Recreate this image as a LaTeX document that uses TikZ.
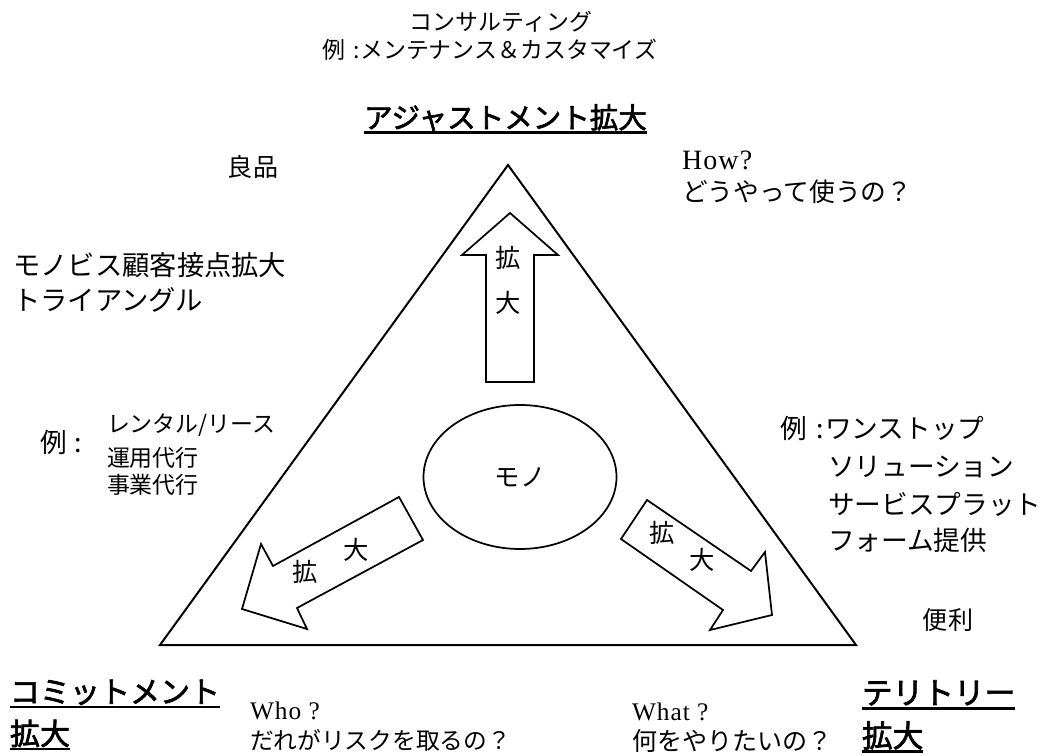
\documentclass[tikz,border=0pt]{standalone}
\usepackage{fontspec}
\usetikzlibrary{shapes.geometric}
\setmainfont{Noto Sans CJK JP}
\newfontfamily\jpb[FakeBold=2.2]{Noto Sans CJK JP}
\newfontfamily\lat[LetterSpace=4]{Liberation Serif}
\newcommand\fs[1]{\fontsize{#1}{#1}\selectfont}
\newcommand\ulx[1]{\setbox0=\hbox{#1}\rlap{\copy0}\raisebox{-4.2pt}{\rule{\wd0}{2pt}}}
\begin{document}
\begin{tikzpicture}[x=0.75pt,y=-0.75pt,
  tri/.style={line width=1.5pt, line join=miter},
  blk/.style={draw, line width=1.3pt, line join=miter, fill=white},
  txt/.style={inner sep=0pt, outer sep=0pt},
  wtxt/.style={inner sep=0pt, outer sep=0pt, anchor=west}]
\useasboundingbox (0,0) rectangle (1050,756);

% triangle
\coordinate (apex) at (508,165);
\coordinate (br) at (856,645);
\coordinate (bl) at (160,645);
\draw[tri] (apex) -- (br) -- (bl) -- cycle;

% centre ellipse
\node[draw, ellipse, line width=1.3pt, inner sep=0pt,
      minimum width=144.75pt, minimum height=108pt] (mono) at (520,477) {\fs{19}モノ};

% up arrow
\draw[blk] (486,382) -- (486,255) -- (462,255) -- (510,213) -- (558,255) -- (534,255) -- (534,382) -- cycle;
\node[txt] (u1) at (508,258) {\fs{19}拡};
\node[txt] (u2) at (508,303) {\fs{19}大};

% left-down arrow
\draw[blk] (399,497) -- (273,566) -- (261,544) -- (242,609) -- (307,629) -- (297,608) -- (423,540) -- cycle;
\node[txt] (l1) at (305,572) {\fs{19}拡};
\node[txt] (l2) at (356,550) {\fs{19}大};

% right-down arrow
\draw[blk] (647,500) -- (751,571) -- (765,552) -- (772,615) -- (710,630) -- (723,610) -- (621,539) -- cycle;
\node[txt] (r1) at (662,533) {\fs{19}拡};
\node[txt] (r2) at (702,560) {\fs{19}大};

% top texts
\node[txt] (t1) at (501,22) {\fs{17.2}コンサルティング};
\node[txt] (t2) at (490,50) {\fs{17.2}例\hspace{6pt}:メンテナンス＆カスタマイズ};
\node[txt] (adj) at (505.5,119) {\jpb\fs{21.4}\ulx{アジャストメント拡大}};

% left texts
\node[txt] (ryo) at (253,167) {\fs{18.8}良品};
\node[wtxt] (mb1) at (13,265) {\fs{20.5}モノビス顧客接点拡大};
\node[wtxt] (mb2) at (13,300) {\fs{20.5}トライアングル};
\node[wtxt] (lex) at (40,442) {\fs{20}例\hspace{6pt}:};
\node[wtxt] (le1) at (107,425) {\fs{17.2}レンタル/リース};
\node[wtxt] (le2) at (107,458) {\fs{17.2}運用代行};
\node[wtxt] (le3) at (107,485) {\fs{17.2}事業代行};

% right texts
\node[wtxt] (how) at (682,160) {\lat\fs{21}How?};
\node[wtxt] (howj) at (682,192) {\fs{19.3}どうやって使うの？};
\node[wtxt] (rex) at (780,428) {\fs{20}例\hspace{7pt}:};
\node[wtxt] (re1) at (825,428) {\fs{20}ワンストップ};
\node[wtxt] (re2) at (828,467) {\fs{20}ソリューション};
\node[wtxt] (re3) at (828,504) {\fs{20}サービスプラット};
\node[wtxt] (re4) at (828,540) {\fs{20}フォーム提供};
\node[txt] (ben) at (948,620) {\fs{18.8}便利};

% bottom texts
\node[wtxt] (com1) at (10,694) {\jpb\fs{22.5}\ulx{コミットメント}};
\node[wtxt] (com2) at (10,735) {\jpb\fs{22.5}\ulx{拡大}};
\node[wtxt] (who) at (250,711) {\lat\fs{19}Who ?};
\node[wtxt] (whoj) at (250,740) {\fs{17.8}だれがリスクを取るの？};
\node[wtxt] (what) at (632,712) {\lat\fs{19}What ?};
\node[wtxt] (whatj) at (632,741) {\fs{18.8}何をやりたいの？};
\node[wtxt] (ter1) at (862,695) {\jpb\fs{23}\ulx{テリトリー}};
\node[wtxt] (ter2) at (862,737) {\jpb\fs{23}\ulx{拡大}};
\end{tikzpicture}
\end{document}
